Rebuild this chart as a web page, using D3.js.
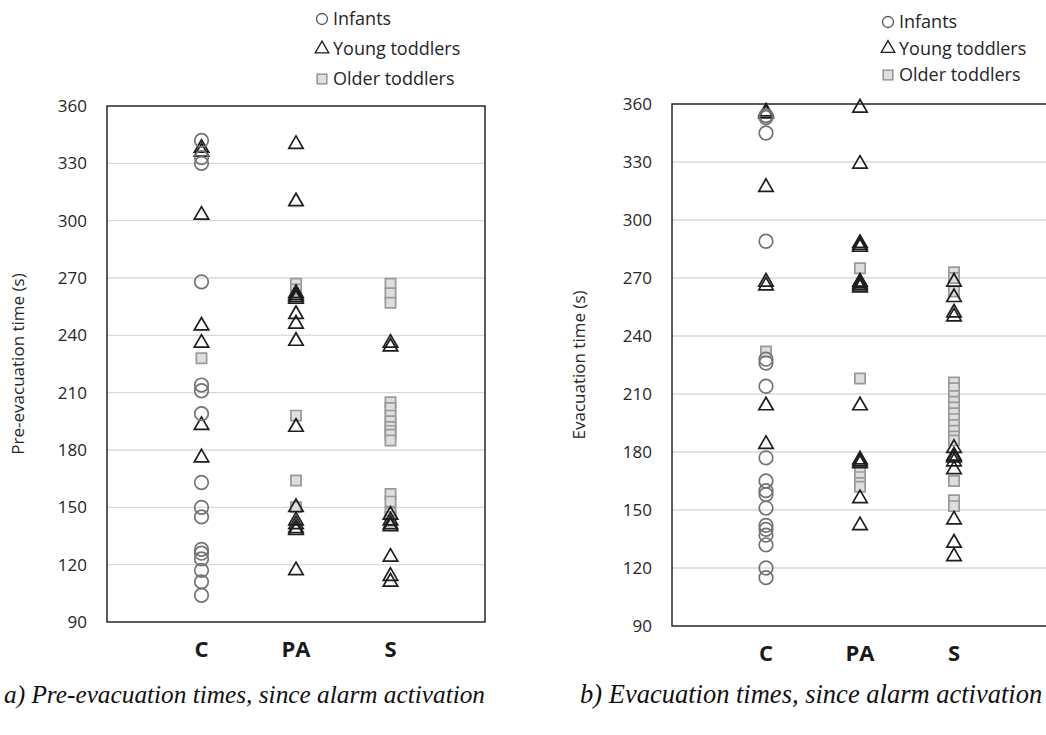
<!DOCTYPE html>
<html>
<head>
<meta charset="utf-8">
<script src="https://cdn.jsdelivr.net/npm/d3@7"></script>
<style>
  body { margin: 0; background: #fff; }
  svg { display: block; }
  text { font-family: "Open Sans", "Noto Sans", sans-serif; }
  text.caption { font-family: "Liberation Serif", "DejaVu Serif", serif; font-style: italic; }
</style>
</head>
<body>
<svg id="chart" width="1046" height="735"></svg>
<script>
// categories and ticks
var categories = ["C", "PA", "S"];
var yTicks = [90, 120, 150, 180, 210, 240, 270, 300, 330, 360];
var groups = ["Infants", "Young toddlers", "Older toddlers"];

// (a) pre-evacuation times (s)
var preInfants = {
  C: [342, 333, 330, 268, 214, 211, 199, 163, 150, 145, 128, 126, 123, 117, 111, 104],
  PA: [],
  S: []
};
var preYoung = {
  C: [338, 336, 303, 245, 236, 193, 176],
  PA: [340, 310, 262, 261, 260, 259, 251, 246, 237, 192, 150, 143, 141, 139, 138, 117],
  S: [236, 234, 146, 143, 141, 140, 124, 114, 111]
};
var preOlder = {
  C: [228],
  PA: [267, 264, 198, 164, 150],
  S: [267, 262, 257, 205, 202, 198, 195, 192, 190, 188, 185, 157, 153, 147, 145, 143]
};

// (b) evacuation times (s)
var evacInfants = {
  C: [354, 353, 345, 289, 228, 226, 214, 177, 165, 160, 158, 151, 142, 140, 137, 132, 120, 115],
  PA: [],
  S: []
};
var evacYoung = {
  C: [356, 355, 317, 268, 266, 204, 184],
  PA: [358, 329, 288, 287, 286, 268, 267, 266, 265, 204, 176, 175, 174, 156, 142],
  S: [268, 260, 252, 250, 182, 178, 177, 175, 171, 145, 133, 126]
};
var evacOlder = {
  C: [232],
  PA: [275, 218, 170, 167, 164, 162],
  S: [273, 270, 263, 216, 213, 209, 206, 203, 200, 197, 194, 191, 188, 186, 165, 155, 152]
};

var svg = d3.select("#chart");

function flatten(obj, group) {
  var out = [];
  categories.forEach(function(c, i) {
    obj[c].forEach(function(v) { out.push({ cat: c, idx: i + 1, v: v, group: group }); });
  });
  return out;
}

var symbolFor = {
  "Infants": d3.symbolCircle,
  "Young toddlers": d3.symbolTriangle,
  "Older toddlers": d3.symbolSquare
};
var sizeFor = { "Infants": 145, "Young toddlers": 90, "Older toddlers": 105 };
var strokeFor = { "Infants": "#737373", "Young toddlers": "#1e1e1e", "Older toddlers": "#9a9a9a" };
var fillFor = { "Infants": "none", "Young toddlers": "none", "Older toddlers": "#dedede" };

function marker(sel, group) {
  sel.attr("d", d3.symbol().type(symbolFor[group]).size(sizeFor[group]))
    .attr("fill", fillFor[group])
    .attr("stroke", strokeFor[group])
    .attr("stroke-width", 1.7);
}

function panel(opt) {
  var x = d3.scaleLinear().domain([0, 4]).range([opt.x0, opt.x1]);
  var y = d3.scaleLinear().domain([90, 360]).range([opt.y1, opt.y0]);
  var g = svg.append("g");

  // gridlines
  g.selectAll("line.grid")
    .data(yTicks.slice(1, -1))
    .enter().append("line")
      .attr("x1", opt.x0).attr("x2", opt.x1)
      .attr("y1", function(d) { return y(d); })
      .attr("y2", function(d) { return y(d); })
      .attr("stroke", "#d9d9d9").attr("stroke-width", 1.3);

  // frame
  g.append("rect")
    .attr("x", opt.x0).attr("y", opt.y0)
    .attr("width", opt.x1 - opt.x0).attr("height", opt.y1 - opt.y0)
    .attr("fill", "none").attr("stroke", "#262626").attr("stroke-width", 1.5);

  // y tick labels
  g.selectAll("text.ytick")
    .data(yTicks)
    .enter().append("text")
      .attr("x", opt.x0 - 20)
      .attr("y", function(d) { return y(d); })
      .attr("dy", "0.35em")
      .attr("text-anchor", "end")
      .attr("font-size", 17)
      .attr("fill", "#262626")
      .text(function(d) { return d; });

  // category labels
  g.selectAll("text.cat")
    .data(categories)
    .enter().append("text")
      .attr("x", function(d, i) { return x(i + 1); })
      .attr("y", opt.y1 + 35)
      .attr("text-anchor", "middle")
      .attr("font-size", 22)
      .attr("font-weight", "bold")
      .attr("fill", "#1a1a1a")
      .text(function(d) { return d; });

  // y axis title
  g.append("text")
    .attr("transform", "translate(" + opt.titleX + "," + ((opt.y0 + opt.y1) / 2) + ") rotate(-90)")
    .attr("text-anchor", "middle")
    .attr("font-size", 17)
    .attr("fill", "#262626")
    .text(opt.title);

  // points: older toddlers first, then young, then infants
  [[opt.older, "Older toddlers"], [opt.young, "Young toddlers"], [opt.infants, "Infants"]].forEach(function(s) {
    g.append("g").selectAll("path")
      .data(flatten(s[0], s[1]))
      .enter().append("path")
        .attr("transform", function(d) { return "translate(" + x(d.idx) + "," + y(d.v) + ")"; })
        .call(marker, s[1]);
  });

  // legend
  var lg = g.append("g");
  groups.forEach(function(gr, i) {
    var ly = opt.legY + i * opt.legStep;
    lg.append("path")
      .attr("transform", "translate(" + opt.legX + "," + ly + ")")
      .attr("d", d3.symbol().type(symbolFor[gr]).size(gr === "Young toddlers" ? 80 : 95))
      .attr("fill", fillFor[gr])
      .attr("stroke", gr === "Young toddlers" ? "#1e1e1e" : (gr === "Infants" ? "#555" : "#888"))
      .attr("stroke-width", 1.3);
    lg.append("text")
      .attr("x", opt.legX + 11).attr("y", ly)
      .attr("dy", "0.35em")
      .attr("font-size", 18)
      .attr("fill", "#262626")
      .text(gr);
  });

  // caption
  svg.append("text")
    .attr("class", "caption")
    .attr("x", opt.capX).attr("y", 703)
    .attr("font-size", opt.capSize)
    .attr("fill", "#111")
    .text(opt.caption);
}

panel({
  x0: 107, x1: 485, y0: 106, y1: 622,
  titleX: 24, title: "Pre-evacuation time (s)",
  infants: preInfants, young: preYoung, older: preOlder,
  legX: 322, legY: 19, legStep: 30,
  capX: 4, capSize: 25.3, caption: "a) Pre-evacuation times, since alarm activation"
});

panel({
  x0: 672, x1: 1048, y0: 104, y1: 626,
  titleX: 585, title: "Evacuation time (s)",
  infants: evacInfants, young: evacYoung, older: evacOlder,
  legX: 888, legY: 22, legStep: 26.5,
  capX: 580, capSize: 26.5, caption: "b) Evacuation times, since alarm activation"
});
</script>
</body>
</html>
